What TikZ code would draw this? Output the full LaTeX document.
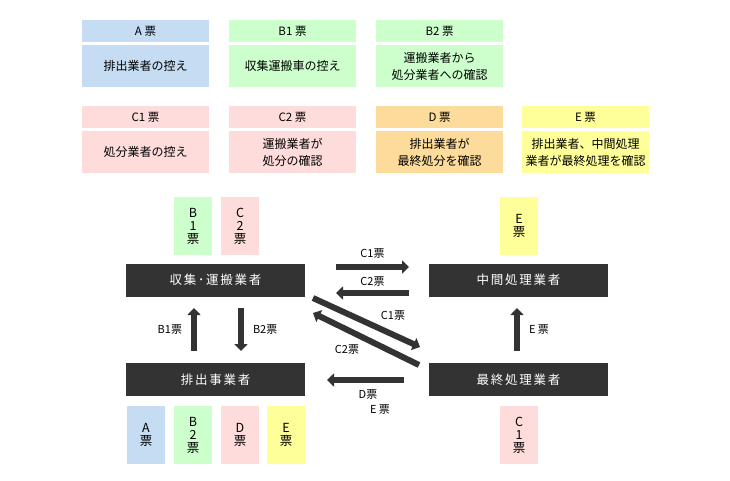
\documentclass[tikz,border=0pt]{standalone}
\usepackage{fontspec}
\setmainfont{Noto Sans CJK JP}
\usetikzlibrary{arrows.meta}
\definecolor{slipA}{HTML}{C5DCF2}
\definecolor{slipB}{HTML}{CCFFCC}
\definecolor{slipC}{HTML}{FFDCDC}
\definecolor{slipD}{HTML}{FDDB9A}
\definecolor{slipE}{HTML}{FFFF99}
\definecolor{dark}{HTML}{333333}
\begin{document}
\begin{tikzpicture}[x=1pt,y=-1pt,>={Triangle[length=7pt,width=13pt]},
    hdr/.style={fill=#1,minimum width=127pt,minimum height=22pt,inner sep=0pt,font=\fontsize{11.5}{12}\selectfont},
    bdy/.style={fill=#1,minimum width=127pt,minimum height=42pt,inner sep=0pt,align=center,font=\fontsize{12}{17}\selectfont},
    actor/.style={fill=dark,text=white,minimum width=179pt,minimum height=33pt,inner sep=0pt,font=\fontsize{12.5}{14}\selectfont\addfontfeatures{LetterSpace=14}},
    slip/.style={fill=#1,minimum width=38pt,minimum height=58pt,inner sep=0pt,align=center,font=\fontsize{12.5}{13}\selectfont},
    flow/.style={->,line width=6pt,draw=dark},
    lbl/.style={font=\fontsize{11}{12}\selectfont,inner sep=1pt}]
    \useasboundingbox (0,0) rectangle (730,480);
    % legend
    \foreach \n/\x/\y/\col/\head/\body in {
        a/145.5/20/slipA/{A 票}/{排出業者の控え},
        bone/292.5/20/slipB/{B1 票}/{収集運搬車の控え},
        btwo/439.5/20/slipB/{B2 票}/{運搬業者から\\処分業者への確認},
        cone/145.5/106/slipC/{C1 票}/{処分業者の控え},
        ctwo/292.5/106/slipC/{C2 票}/{運搬業者が\\処分の確認},
        d/439.5/106/slipD/{D 票}/{排出業者が\\最終処分を確認},
        e/585.5/106/slipE/{E 票}/{排出業者、中間処理\\業者が最終処理を確認}}
    {
        \node[hdr=\col,anchor=north] (h\n) at (\x,\y) {\head};
        \node[bdy=\col,anchor=north] (b\n) at (\x,\y+25) {\body};
    }
    % actors
    \node[actor] (collect) at (215.5,280) {収集･運搬業者};
    \node[actor] (middle) at (518.5,280) {中間処理業者};
    \node[actor] (emitter) at (215.5,379.5) {排出事業者};
    \node[actor] (final) at (518.5,379.5) {最終処理業者};
    % slips
    \node[slip=slipB] (sbone) at (193,226) {B\\1\\票};
    \node[slip=slipC] (sctwo) at (240,226) {C\\2\\票};
    \node[slip=slipE] (setop) at (519,226) {E\\票};
    \node[slip=slipA] (sa) at (146,435) {A\\票};
    \node[slip=slipB] (sbtwo) at (193,435) {B\\2\\票};
    \node[slip=slipC] (sd) at (240,435) {D\\票};
    \node[slip=slipE] (sebot) at (286,435) {E\\票};
    \node[slip=slipC] (scone) at (519,435) {C\\1\\票};
    % arrow ends
    \coordinate (cones) at (336,267);
    \coordinate (conee) at (409,267);
    \coordinate (ctwos) at (409,293);
    \coordinate (ctwoe) at (336,293);
    \coordinate (dcones) at (313,298);
    \coordinate (dconee) at (420,347);
    \coordinate (dctwos) at (419,365);
    \coordinate (dctwoe) at (313,313);
    \coordinate (ds) at (404,380);
    \coordinate (de) at (327,380);
    \coordinate (bones) at (194,351);
    \coordinate (bonee) at (194,308);
    \coordinate (btwos) at (241,308);
    \coordinate (btwoe) at (241,351);
    \coordinate (es) at (517,351);
    \coordinate (ee) at (517,308);
    % flows
    \draw[flow] (cones) -- node[lbl,above=5pt]{C1票} (conee);
    \draw[flow] (ctwos) -- node[lbl,above=3pt]{C2票} (ctwoe);
    \draw[flow] (dcones) -- (dconee);
    \draw[flow] (dctwos) -- (dctwoe);
    \node[lbl] at (393,316) {C1票};
    \node[lbl] at (347,350) {C2票};
    \draw[flow] (ds) -- (de);
    \node[lbl] at (368,395) {D票};
    \node[lbl] at (380,410) {E 票};
    \draw[flow] (bones) -- node[lbl,left=8pt]{B1票} (bonee);
    \draw[flow] (btwos) -- node[lbl,right=8pt]{B2票} (btwoe);
    \draw[flow] (es) -- node[lbl,right=8pt]{E 票} (ee);
\end{tikzpicture}
\end{document}
